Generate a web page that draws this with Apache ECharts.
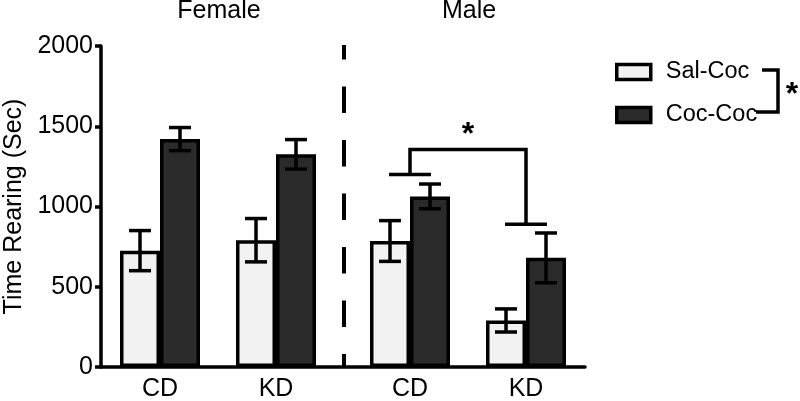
<!DOCTYPE html>
<html><head><meta charset="utf-8">
<script src="https://cdn.jsdelivr.net/npm/echarts@6/dist/echarts.min.js"></script>
<style>html,body{margin:0;padding:0;background:#fff}#c{width:800px;height:401px}</style>
</head><body><div id="c"></div>
<script>
// ---- data ----
const categories = ['CD', 'KD'];
const groupNames = ['Female', 'Male'];
const seriesNames = ['Sal-Coc', 'Coc-Coc'];
const femaleSal = [725, 790];
const femaleSalSem = [125, 135];
const femaleCoc = [1420, 1325];
const femaleCocSem = [72, 92];
const maleSal = [785, 290];
const maleSalSem = [127, 72];
const maleCoc = [1063, 680];
const maleCocSem = [77, 155];
const yMin = 0, yMax = 2000, yInterval = 500;
const yTitle = 'Time Rearing (Sec)';
// significance bracket levels (Male): CD level, KD level, top level
const bracketLevels = [1200, 890, 1355];

const FONT = 'Liberation Sans, Arial, Helvetica, sans-serif';
const FS = 25;
const LW = 3.5;
const LIGHT = '#f2f2f2', DARK = '#2a2a2a';

function errData(means, sems) {
  return means.map((m, i) => [i, m - sems[i], m + sems[i]]);
}
function errRender(offset) {
  return function (params, api) {
    const x = api.value(0);
    const pLo = api.coord([x, api.value(1)]);
    const pHi = api.coord([x, api.value(2)]);
    const cx = pLo[0] + offset, hw = 11;
    const st = { stroke: '#000', lineWidth: LW };
    return { type: 'group', children: [
      { type: 'line', shape: { x1: cx, y1: pLo[1], x2: cx, y2: pHi[1] }, style: st },
      { type: 'line', shape: { x1: cx - hw, y1: pLo[1], x2: cx + hw, y2: pLo[1] }, style: st },
      { type: 'line', shape: { x1: cx - hw, y1: pHi[1], x2: cx + hw, y2: pHi[1] }, style: st }
    ]};
  };
}
function bracketRender(params, api) {
  const a = api.coord([0, api.value(1)]);
  const b = api.coord([1, api.value(2)]);
  const t = api.coord([0, api.value(3)]);
  const hw = 21;
  const st = { stroke: '#000', lineWidth: LW };
  return { type: 'group', children: [
    { type: 'line', shape: { x1: a[0] - hw, y1: a[1], x2: a[0] + hw, y2: a[1] }, style: st },
    { type: 'line', shape: { x1: b[0] - hw, y1: b[1], x2: b[0] + hw, y2: b[1] }, style: st },
    { type: 'polyline', shape: { points: [[a[0], a[1]], [a[0], t[1]], [b[0], t[1]], [b[0], b[1]]] }, style: { stroke: '#000', lineWidth: LW, fill: null } },
    { type: 'text', style: { text: '*', x: (a[0] + b[0]) / 2, y: t[1] + 2, fontSize: 32, fontWeight: 'bold', fontFamily: FONT, fill: '#000', align: 'center', verticalAlign: 'bottom' } }
  ]};
}

const chart = echarts.init(document.getElementById('c'), null, { renderer: 'canvas' });

const hiddenY = { type: 'value', min: yMin, max: yMax, show: false };
const catX = (gi) => ({
  type: 'category', gridIndex: gi, data: categories,
  axisLine: { show: false }, axisTick: { show: false },
  axisLabel: { color: '#000', fontSize: FS, fontFamily: FONT, margin: 10 }
});
const bar = (name, xi, data, color) => ({
  type: 'bar', name: name, xAxisIndex: xi, yAxisIndex: xi, data: data,
  barWidth: 40, barGap: '0%',
  itemStyle: { color: color, borderColor: '#000', borderWidth: LW }
});
const gridBase = { top: 46, bottom: 34, containLabel: false, outerBoundsMode: 'none' };

chart.setOption({
  animation: false,
  backgroundColor: '#fff',
  grid: [
    Object.assign({ left: 101, right: 215 }, gridBase),
    Object.assign({ left: 102, width: 232 }, gridBase),
    Object.assign({ left: 352, width: 232 }, gridBase)
  ],
  xAxis: [
    { type: 'category', gridIndex: 0, data: [''], axisLine: { lineStyle: { color: '#000', width: LW } }, axisTick: { show: false }, axisLabel: { show: false } },
    catX(1), catX(2)
  ],
  yAxis: [
    { type: 'value', gridIndex: 0, min: yMin, max: yMax, interval: yInterval,
      name: yTitle, nameLocation: 'middle', nameGap: 74, nameMoveOverlap: false,
      nameTextStyle: { color: '#000', fontSize: FS, fontFamily: FONT },
      axisLine: { show: true, lineStyle: { color: '#000', width: LW } },
      axisTick: { show: true, length: 6, lineStyle: { color: '#000', width: LW } },
      axisLabel: { color: '#000', fontSize: FS, fontFamily: FONT, margin: 8, formatter: (v) => String(v) },
      splitLine: { show: false } },
    Object.assign({ gridIndex: 1 }, hiddenY),
    Object.assign({ gridIndex: 2 }, hiddenY)
  ],
  legend: {
    orient: 'vertical', left: 610, top: 55, itemWidth: 34, itemHeight: 15, itemGap: 19,
    icon: 'rect', data: seriesNames,
    itemStyle: { borderColor: '#000', borderWidth: LW },
    textStyle: { color: '#000', fontSize: 23.5, fontFamily: FONT, padding: [0, 0, 0, 10] }
  },
  series: [
    bar(seriesNames[0], 1, femaleSal, LIGHT),
    bar(seriesNames[1], 1, femaleCoc, DARK),
    bar(seriesNames[0], 2, maleSal, LIGHT),
    bar(seriesNames[1], 2, maleCoc, DARK),
    { type: 'custom', xAxisIndex: 1, yAxisIndex: 1, z: 5, renderItem: errRender(-20), data: errData(femaleSal, femaleSalSem) },
    { type: 'custom', xAxisIndex: 1, yAxisIndex: 1, z: 5, renderItem: errRender(20), data: errData(femaleCoc, femaleCocSem) },
    { type: 'custom', xAxisIndex: 2, yAxisIndex: 2, z: 5, renderItem: errRender(-20), data: errData(maleSal, maleSalSem) },
    { type: 'custom', xAxisIndex: 2, yAxisIndex: 2, z: 5, renderItem: errRender(20), data: errData(maleCoc, maleCocSem) },
    { type: 'custom', xAxisIndex: 2, yAxisIndex: 2, z: 5, clip: false, renderItem: bracketRender, data: [[0].concat(bracketLevels)] }
  ],
  graphic: [
    { type: 'line', shape: { x1: 344, y1: 45, x2: 344, y2: 367 }, style: { stroke: '#000', lineWidth: 4, lineDash: [26.5, 27], lineDashOffset: 12 } },
    { type: 'text', x: 219, y: 11, style: { text: groupNames[0], fontSize: FS, fontFamily: FONT, fill: '#000', align: 'center', verticalAlign: 'middle' } },
    { type: 'text', x: 469, y: 11, style: { text: groupNames[1], fontSize: FS, fontFamily: FONT, fill: '#000', align: 'center', verticalAlign: 'middle' } },
    { type: 'polyline', shape: { points: [[762, 70], [778, 70], [778, 112], [756, 112]] }, style: { stroke: '#000', lineWidth: LW, fill: null } },
    { type: 'text', x: 792, y: 95, style: { text: '*', fontSize: 32, fontWeight: 'bold', fontFamily: FONT, fill: '#000', align: 'center', verticalAlign: 'middle' } }
  ]
});
</script></body></html>
